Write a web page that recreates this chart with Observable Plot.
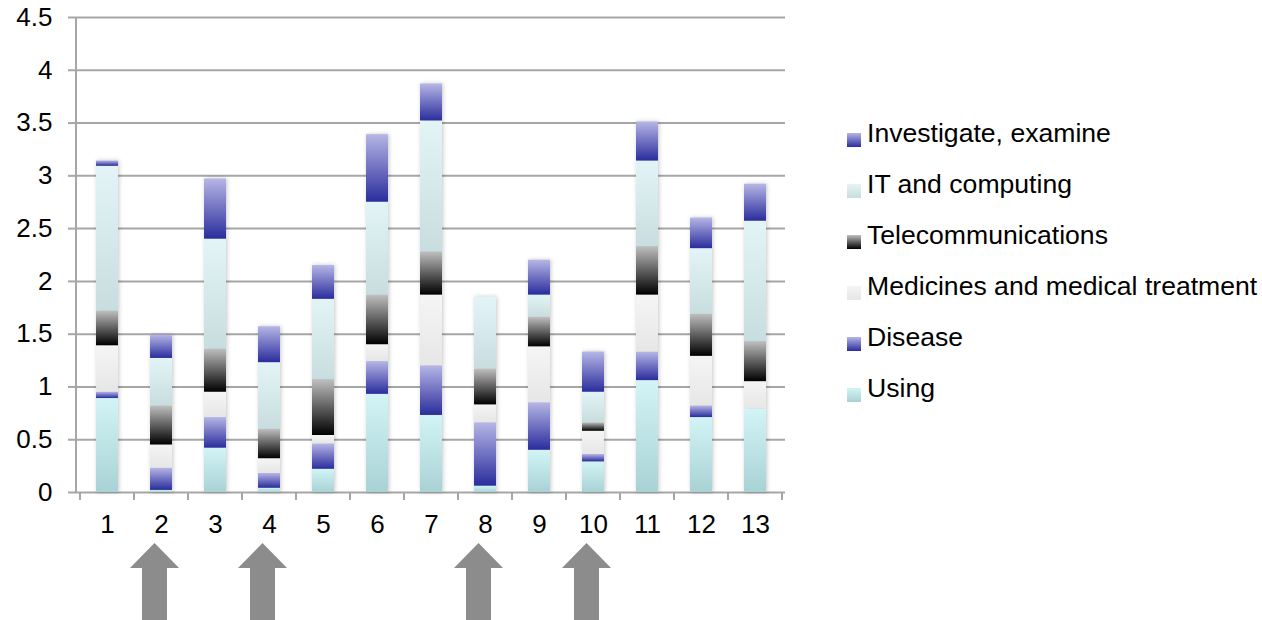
<!DOCTYPE html>
<html><head><meta charset="utf-8">
<script src="https://cdn.jsdelivr.net/npm/d3@7"></script>
<script src="https://cdn.jsdelivr.net/npm/@observablehq/plot@0.6"></script>
<style>
body{margin:0;background:#fff;font-family:"Liberation Sans",Arial,Helvetica,sans-serif;}
#wrap{position:relative;width:1262px;height:620px;overflow:hidden;}
#legend{position:absolute;left:847px;top:108px;}
.item{display:flex;align-items:center;height:51px;font-size:26.6px;color:#000;white-space:nowrap;}
.sw{width:14px;height:14px;margin-right:6px;margin-top:12px;flex:none;}
g[aria-label="bar"]{filter:drop-shadow(1px 0 2px rgba(0,0,0,0.22));}
</style></head><body><div id="wrap"><div id="legend"></div></div>
<script>
const categories = ["1","2","3","4","5","6","7","8","9","10","11","12","13"];
const seriesNames = ["Using","Disease","Medicines and medical treatment","Telecommunications","IT and computing","Investigate, examine"];
const using       = [0.89,0.02,0.42,0.04,0.22,0.93,0.73,0.06,0.40,0.29,1.06,0.71,0.79];
const disease     = [0.06,0.21,0.29,0.14,0.24,0.31,0.47,0.60,0.45,0.07,0.27,0.11,0.00];
const medicines   = [0.44,0.22,0.24,0.14,0.08,0.16,0.67,0.17,0.53,0.22,0.54,0.47,0.26];
const telecom     = [0.33,0.37,0.41,0.28,0.53,0.47,0.41,0.34,0.28,0.08,0.46,0.40,0.38];
const itComputing = [1.37,0.45,1.04,0.63,0.76,0.88,1.24,0.68,0.21,0.29,0.81,0.62,1.14];
const investigate = [0.05,0.22,0.57,0.34,0.32,0.64,0.35,0.00,0.33,0.38,0.37,0.29,0.35];
const yTicks = [0,0.5,1,1.5,2,2.5,3,3.5,4,4.5];
const arrowCategories = ["2","4","8","10"];

const seriesValues = [using, disease, medicines, telecom, itComputing, investigate];
// gradient [top, bottom] per series
const gradients = [
  ["#d2f4f6","#a9d2d5"],
  ["#b6b6e6","#2a2d9c"],
  ["#f5f5f5","#e6e6e6"],
  ["#c0c0c0","#000000"],
  ["#e3f4f6","#c8dddf"],
  ["#b6b6e6","#2a2d9c"]
];

const data = [];
categories.forEach((c, i) => {
  seriesNames.forEach((s, j) => data.push({cat: c, series: s, value: seriesValues[j][i]}));
});

const NS = "http://www.w3.org/2000/svg";
function el(tag, attrs) {
  const e = document.createElementNS(NS, tag);
  for (const k in attrs) e.setAttribute(k, attrs[k]);
  return e;
}

function defsMark() {
  const defs = el("defs", {});
  gradients.forEach(([top, bottom], i) => {
    const g = el("linearGradient", {id: "grad" + i, x1: 0, y1: 0, x2: 0, y2: 1});
    g.appendChild(el("stop", {offset: "0", "stop-color": top}));
    g.appendChild(el("stop", {offset: "1", "stop-color": bottom}));
    defs.appendChild(g);
  });
  return defs;
}

function bandInfo(sx) {
  const bw = typeof sx.bandwidth === "function" ? sx.bandwidth() : sx.bandwidth;
  const step = typeof sx.step === "function" ? sx.step() : (sx(categories[1]) - sx(categories[0]));
  return {bw, step};
}

function axisLinesMark(index, scales, values, dimensions) {
  const g = el("g", {stroke: "#a6a6a6", "stroke-width": 2, fill: "none"});
  const sx = scales.x, sy = scales.y;
  const {bw, step} = bandInfo(sx);
  const y0 = sy(0), yTop = sy(4.5);
  const left = dimensions.marginLeft;
  g.appendChild(el("line", {x1: left, x2: left, y1: yTop, y2: y0 + 1}));
  const first = sx(categories[0]) - (step - bw) / 2;
  for (let i = 0; i <= categories.length; i++) {
    const x = first + i * step;
    g.appendChild(el("line", {x1: x, x2: x, y1: y0, y2: y0 + 8}));
  }
  return g;
}

function arrowsMark(index, scales, values, dimensions) {
  const g = el("g", {fill: "#8c8c8c"});
  const sx = scales.x, sy = scales.y;
  const {bw} = bandInfo(sx);
  const y0 = sy(0);
  const tip = y0 + 51, base = y0 + 76, bottom = dimensions.height;
  const hw = 24.5, sw = 12.5;
  arrowCategories.forEach(c => {
    const cx = sx(c) + bw / 2 - 6.5;
    const pts = [[cx, tip],[cx + hw, base],[cx + sw, base],[cx + sw, bottom],[cx - sw, bottom],[cx - sw, base],[cx - hw, base]];
    g.appendChild(el("polygon", {points: pts.map(p => p.join(",")).join(" ")}));
  });
  return g;
}

const chart = Plot.plot({
  width: 1262, height: 620,
  marginLeft: 76, marginRight: 477, marginTop: 17, marginBottom: 128,
  style: {fontFamily: "'Liberation Sans', Arial, sans-serif", fontSize: "26px", background: "transparent", color: "#000", overflow: "visible"},
  x: {domain: categories, paddingInner: 0.6, paddingOuter: 0.3, align: 0.5, label: null},
  y: {domain: [0, 4.5], label: null},
  color: {type: "ordinal", domain: seriesNames, range: seriesNames.map((_, i) => `url(#grad${i})`)},
  marks: [
    defsMark,
    Plot.gridY(yTicks, {stroke: "#a6a6a6", strokeOpacity: 1, strokeWidth: 2}),
    Plot.axisY(yTicks, {tickSize: 8, tickPadding: 16, tickFormat: d => String(d), stroke: "#a6a6a6", strokeWidth: 2, fontSize: 26, label: null}),
    Plot.barY(data, Plot.stackY({x: "cat", y: "value", fill: "series", z: "series", order: seriesNames})),
    axisLinesMark,
    Plot.axisX({tickSize: 0, tickPadding: 22, fontSize: 26, label: null}),
    arrowsMark
  ]
});
document.getElementById("wrap").prepend(chart);

const legend = document.getElementById("legend");
seriesNames.slice().reverse().forEach(name => {
  const i = seriesNames.indexOf(name);
  const item = document.createElement("div");
  item.className = "item";
  const sw = document.createElement("span");
  sw.className = "sw";
  sw.style.background = `linear-gradient(${gradients[i][0]}, ${gradients[i][1]})`;
  const t = document.createElement("span");
  t.textContent = name;
  item.append(sw, t);
  legend.appendChild(item);
});
</script></body></html>
